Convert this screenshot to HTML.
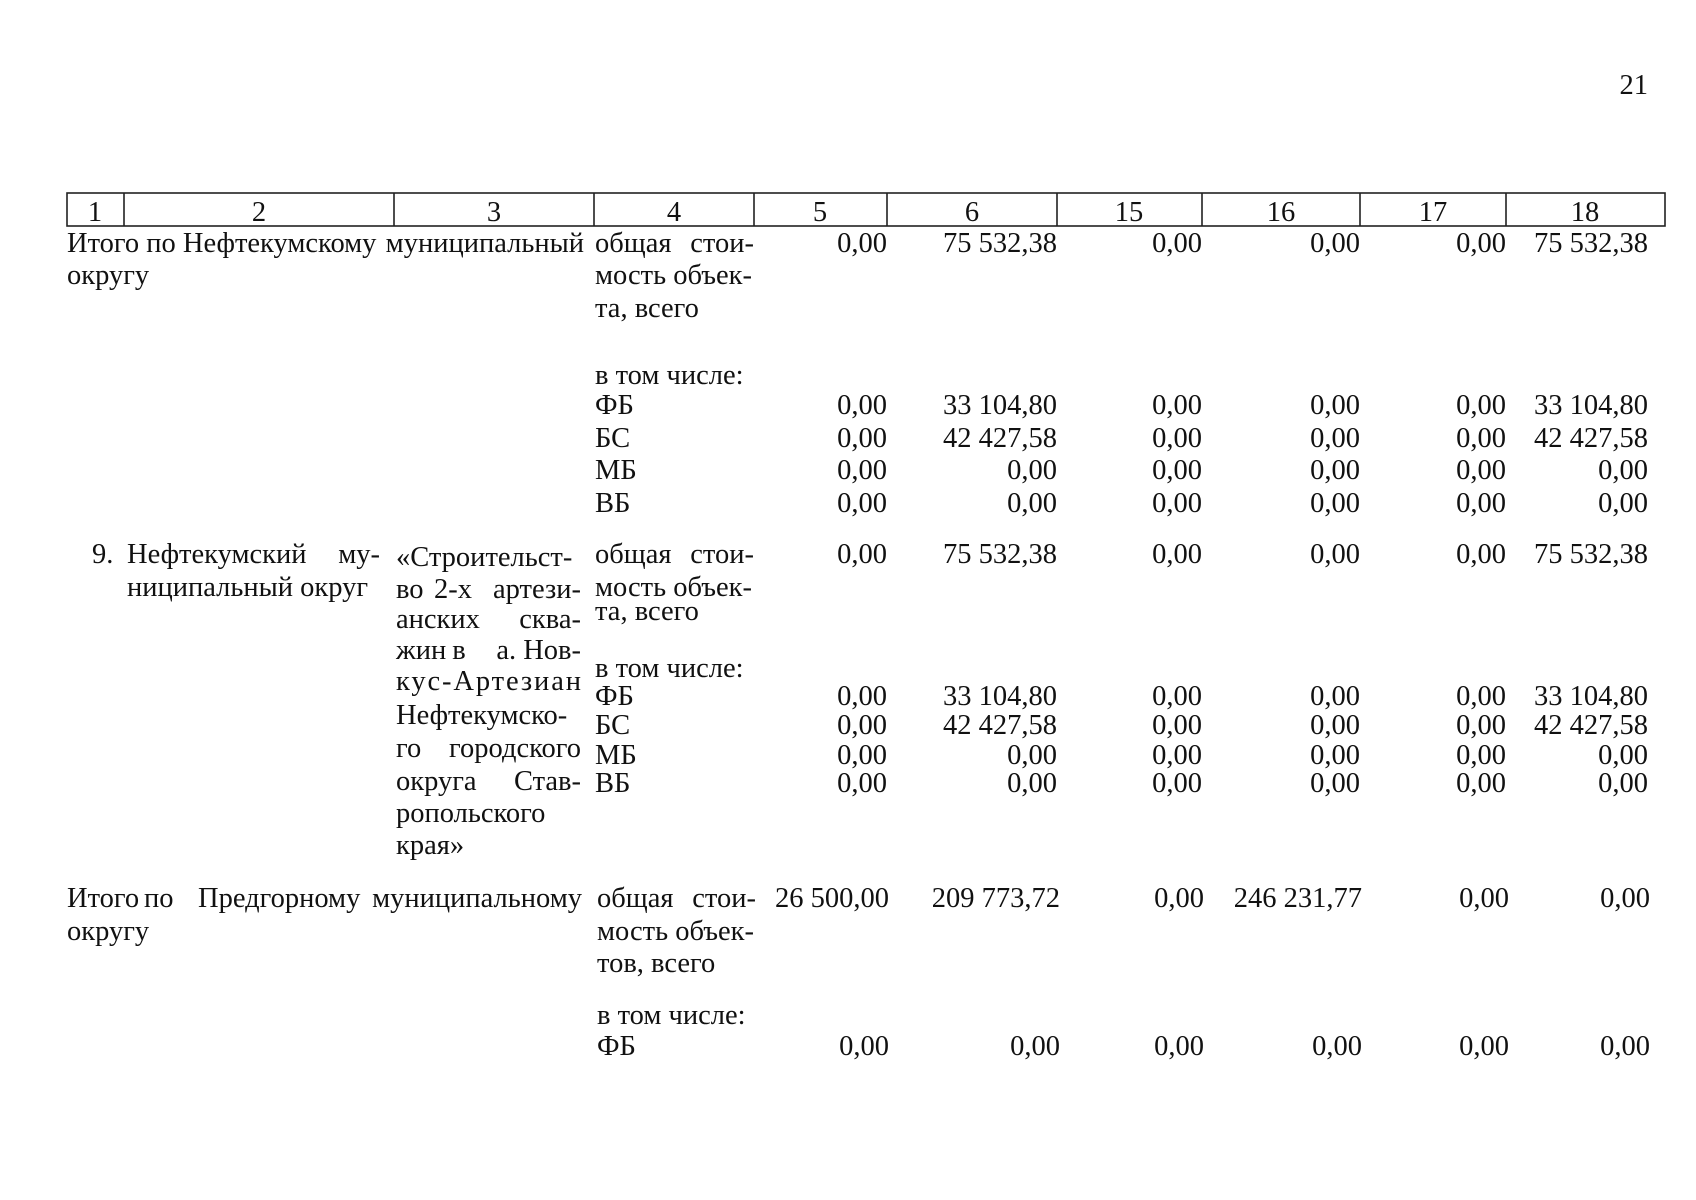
<!DOCTYPE html>
<html><head><meta charset="utf-8"><style>
html,body{margin:0;padding:0;background:#fff;width:1696px;height:1200px;overflow:hidden}
svg{display:block}
text{font-family:"Liberation Serif","DejaVu Serif",serif;font-size:28.5px;fill:#111}
.r{text-anchor:end}
.c{text-anchor:middle}
.m{text-anchor:middle}
</style></head><body>
<svg width="1696" height="1200" viewBox="0 0 1696 1200">
<text x="1648" y="94" class="r">21</text>
<g stroke="#222" stroke-width="1.6" fill="none">
<rect x="67" y="193" width="1598" height="33"/>
<line x1="124" y1="193" x2="124" y2="226"/>
<line x1="394" y1="193" x2="394" y2="226"/>
<line x1="594" y1="193" x2="594" y2="226"/>
<line x1="754" y1="193" x2="754" y2="226"/>
<line x1="887" y1="193" x2="887" y2="226"/>
<line x1="1057" y1="193" x2="1057" y2="226"/>
<line x1="1202" y1="193" x2="1202" y2="226"/>
<line x1="1360" y1="193" x2="1360" y2="226"/>
<line x1="1506" y1="193" x2="1506" y2="226"/>
</g>
<text x="95" y="221" class="c">1</text>
<text x="259" y="221" class="c">2</text>
<text x="494" y="221" class="c">3</text>
<text x="674" y="221" class="c">4</text>
<text x="820" y="221" class="c">5</text>
<text x="972" y="221" class="c">6</text>
<text x="1129" y="221" class="c">15</text>
<text x="1281" y="221" class="c">16</text>
<text x="1433" y="221" class="c">17</text>
<text x="1585" y="221" class="c">18</text>

<!-- Block 1 -->
<text x="67" y="252">Итого по Нефтекумскому</text>
<text x="584" y="252" class="r">муниципальный</text>
<text x="67" y="284">округу</text>
<text x="595" y="252">общая</text><text x="754" y="252" class="r">стои-</text>
<text x="595" y="284">мость объек-</text>
<text x="595" y="317">та, всего</text>
<text x="595" y="384">в том числе:</text>
<text x="595" y="414">ФБ</text>
<text x="595" y="447">БС</text>
<text x="595" y="479">МБ</text>
<text x="595" y="512">ВБ</text>
<text x="887" y="252" class="r">0,00</text><text x="1057" y="252" class="r">75 532,38</text><text x="1202" y="252" class="r">0,00</text><text x="1360" y="252" class="r">0,00</text><text x="1506" y="252" class="r">0,00</text><text x="1648" y="252" class="r">75 532,38</text>
<text x="887" y="414" class="r">0,00</text><text x="1057" y="414" class="r">33 104,80</text><text x="1202" y="414" class="r">0,00</text><text x="1360" y="414" class="r">0,00</text><text x="1506" y="414" class="r">0,00</text><text x="1648" y="414" class="r">33 104,80</text>
<text x="887" y="447" class="r">0,00</text><text x="1057" y="447" class="r">42 427,58</text><text x="1202" y="447" class="r">0,00</text><text x="1360" y="447" class="r">0,00</text><text x="1506" y="447" class="r">0,00</text><text x="1648" y="447" class="r">42 427,58</text>
<text x="887" y="479" class="r">0,00</text><text x="1057" y="479" class="r">0,00</text><text x="1202" y="479" class="r">0,00</text><text x="1360" y="479" class="r">0,00</text><text x="1506" y="479" class="r">0,00</text><text x="1648" y="479" class="r">0,00</text>
<text x="887" y="512" class="r">0,00</text><text x="1057" y="512" class="r">0,00</text><text x="1202" y="512" class="r">0,00</text><text x="1360" y="512" class="r">0,00</text><text x="1506" y="512" class="r">0,00</text><text x="1648" y="512" class="r">0,00</text>

<!-- Block 2 -->
<text x="92" y="563">9.</text>
<text x="127" y="563">Нефтекумский</text><text x="380" y="563" class="r">му-</text>
<text x="127" y="596">ниципальный округ</text>
<text x="396" y="566">«Строительст-</text>
<text x="396" y="598">во</text><text x="453" y="598" class="m">2-х</text><text x="581" y="598" class="r">артези-</text>
<text x="396" y="628">анских</text><text x="581" y="628" class="r">сква-</text>
<text x="396" y="659">жин</text><text x="459" y="659" class="m">в</text><text x="581" y="659" class="r">а. Нов-</text>
<text x="396" y="690" textLength="185" lengthAdjust="spacing">кус-Артезиан</text>
<text x="396" y="724">Нефтекумско-</text>
<text x="396" y="757">го</text><text x="581" y="757" class="r">городского</text>
<text x="396" y="790">округа</text><text x="581" y="790" class="r">Став-</text>
<text x="396" y="822">ропольского</text>
<text x="396" y="854">края»</text>
<text x="595" y="563">общая</text><text x="754" y="563" class="r">стои-</text>
<text x="595" y="596">мость объек-</text>
<text x="595" y="620">та, всего</text>
<text x="595" y="677">в том числе:</text>
<text x="595" y="705">ФБ</text>
<text x="595" y="734">БС</text>
<text x="595" y="764">МБ</text>
<text x="595" y="792">ВБ</text>
<text x="887" y="563" class="r">0,00</text><text x="1057" y="563" class="r">75 532,38</text><text x="1202" y="563" class="r">0,00</text><text x="1360" y="563" class="r">0,00</text><text x="1506" y="563" class="r">0,00</text><text x="1648" y="563" class="r">75 532,38</text>
<text x="887" y="705" class="r">0,00</text><text x="1057" y="705" class="r">33 104,80</text><text x="1202" y="705" class="r">0,00</text><text x="1360" y="705" class="r">0,00</text><text x="1506" y="705" class="r">0,00</text><text x="1648" y="705" class="r">33 104,80</text>
<text x="887" y="734" class="r">0,00</text><text x="1057" y="734" class="r">42 427,58</text><text x="1202" y="734" class="r">0,00</text><text x="1360" y="734" class="r">0,00</text><text x="1506" y="734" class="r">0,00</text><text x="1648" y="734" class="r">42 427,58</text>
<text x="887" y="764" class="r">0,00</text><text x="1057" y="764" class="r">0,00</text><text x="1202" y="764" class="r">0,00</text><text x="1360" y="764" class="r">0,00</text><text x="1506" y="764" class="r">0,00</text><text x="1648" y="764" class="r">0,00</text>
<text x="887" y="792" class="r">0,00</text><text x="1057" y="792" class="r">0,00</text><text x="1202" y="792" class="r">0,00</text><text x="1360" y="792" class="r">0,00</text><text x="1506" y="792" class="r">0,00</text><text x="1648" y="792" class="r">0,00</text>

<!-- Block 3 -->
<text x="67" y="907">Итого</text><text x="144" y="907">по</text><text x="198" y="907">Предгорному</text><text x="582" y="907" class="r">муниципальному</text>
<text x="67" y="940">округу</text>
<text x="597" y="907">общая</text><text x="756" y="907" class="r">стои-</text>
<text x="597" y="940">мость объек-</text>
<text x="597" y="972">тов, всего</text>
<text x="597" y="1024">в том числе:</text>
<text x="597" y="1055">ФБ</text>
<text x="889" y="907" class="r">26 500,00</text><text x="1060" y="907" class="r">209 773,72</text><text x="1204" y="907" class="r">0,00</text><text x="1362" y="907" class="r">246 231,77</text><text x="1509" y="907" class="r">0,00</text><text x="1650" y="907" class="r">0,00</text>
<text x="889" y="1055" class="r">0,00</text><text x="1060" y="1055" class="r">0,00</text><text x="1204" y="1055" class="r">0,00</text><text x="1362" y="1055" class="r">0,00</text><text x="1509" y="1055" class="r">0,00</text><text x="1650" y="1055" class="r">0,00</text>
</svg>
</body></html>
